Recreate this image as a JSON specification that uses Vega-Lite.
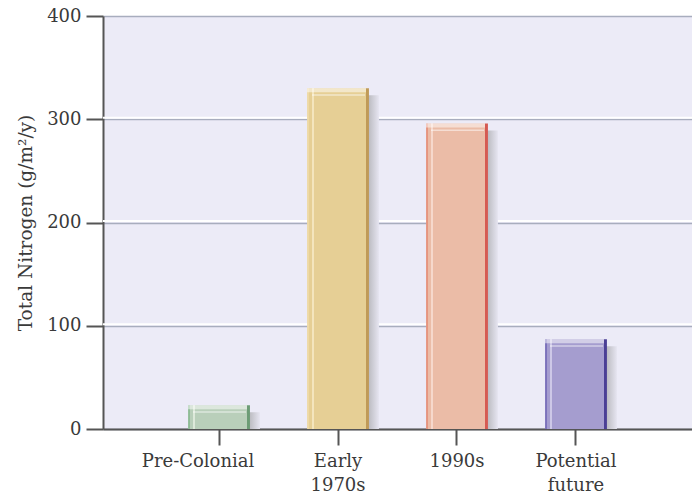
{
  "$schema": "https://vega.github.io/schema/vega-lite/v6.json",
  "width": 589,
  "height": 413,
  "autosize": "none",
  "padding": {"left": 103, "top": 16, "right": 0, "bottom": 68},
  "background": "white",
  "config": {"view": {"fill": "#ecebf7", "stroke": null}, "font": "DejaVu Serif"},
  "datasets": {
    "bars": [
      {"period": "Pre-Colonial", "nitrogen": 23},
      {"period": "Early 1970s", "nitrogen": 330},
      {"period": "1990s", "nitrogen": 296},
      {"period": "Potential future", "nitrogen": 87}
    ],
    "grid": [{"level": 100}, {"level": 200}, {"level": 300}]
  },
  "encoding": {
    "x": {"field": "period", "type": "nominal", "sort": null, "title": null,
      "scale": {"domain": ["Pre-Colonial", "Early 1970s", "1990s", "Potential future"], "paddingInner": 0.48, "paddingOuter": 0.715},
      "axis": {"labelAngle": 0, "labelFont": "DejaVu Serif", "labelFontSize": 18, "labelColor": "#3a3a3a",
        "labelExpr": "split(datum.value, ' ')", "labelLineHeight": 24, "labelPadding": 7,
        "labelOffset": {"condition": {"test": "datum.value === 'Pre-Colonial'", "value": -21}, "value": 0},
        "domainColor": "#555555", "domainWidth": 2, "tickColor": "#555555", "tickWidth": 2, "tickSize": 16, "grid": false}},
    "y": {"field": "nitrogen", "type": "quantitative", "title": "Total Nitrogen (g/m²/y)",
      "scale": {"domain": [0, 400], "nice": false},
      "axis": {"values": [0, 100, 200, 300, 400], "labelFont": "DejaVu Serif", "labelFontSize": 18, "labelColor": "#3a3a3a",
        "labelPadding": 5, "titleFont": "DejaVu Serif", "titleFontSize": 18.5, "titleFontWeight": "normal", "titleColor": "#3a3a3a", "titlePadding": 11,
        "domainColor": "#555555", "domainWidth": 2, "tickColor": "#555555", "tickWidth": 2, "tickSize": 17,
        "grid": true, "gridColor": "#a8adbe", "gridWidth": 1.5}}
  },
  "layer": [
    {
      "data": {"name": "grid"},
      "mark": {"type": "rule", "color": "#ffffff", "strokeWidth": 2, "yOffset": -1.5},
      "encoding": {
        "x": {"value": 0},
        "x2": {"value": "width"},
        "y": {"field": "level", "type": "quantitative", "title": "Total Nitrogen (g/m²/y)",
          "scale": {"domain": [0, 400], "nice": false},
          "axis": {"values": [0, 100, 200, 300, 400], "labelFont": "DejaVu Serif", "labelFontSize": 18, "labelColor": "#3a3a3a",
            "labelPadding": 5, "titleFont": "DejaVu Serif", "titleFontSize": 18.5, "titleFontWeight": "normal", "titleColor": "#3a3a3a", "titlePadding": 11,
            "domainColor": "#555555", "domainWidth": 2, "tickColor": "#555555", "tickWidth": 2, "tickSize": 17,
            "grid": true, "gridColor": "#a8adbe", "gridWidth": 1.5}}
      }
    },
    {
      "data": {"name": "bars"},
      "mark": {"type": "bar", "xOffset": 10, "yOffset": 7, "y2Offset": 0,
        "color": {"gradient": "linear", "x1": 0, "y1": 0, "x2": 1, "y2": 0,
          "stops": [{"offset": 0, "color": "#b8b8bd"}, {"offset": 0.82, "color": "#b8b8bd"}, {"offset": 1, "color": "#e6e5f1"}]}},
      "encoding": {"y2": {"datum": 0}}
    },
    {
      "data": {"name": "bars"},
      "transform": [{"filter": "datum.period === 'Pre-Colonial'"}],
      "mark": {"type": "bar", "color": {"gradient": "linear", "x1": 0, "y1": 0, "x2": 1, "y2": 0, "stops": [
        {"offset": 0, "color": "#8fbc96"}, {"offset": 0.035, "color": "#8fbc96"},
        {"offset": 0.035, "color": "#b9cfba"}, {"offset": 0.08, "color": "#b9cfba"},
        {"offset": 0.08, "color": "#dde9da"}, {"offset": 0.105, "color": "#dde9da"},
        {"offset": 0.105, "color": "#b9cfba"}, {"offset": 0.95, "color": "#b9cfba"},
        {"offset": 0.95, "color": "#6c9c75"}, {"offset": 1, "color": "#6c9c75"}]}}
    },
    {
      "data": {"name": "bars"},
      "transform": [{"filter": "datum.period === 'Early 1970s'"}],
      "mark": {"type": "bar", "color": {"gradient": "linear", "x1": 0, "y1": 0, "x2": 1, "y2": 0, "stops": [
        {"offset": 0, "color": "#eed9a4"}, {"offset": 0.035, "color": "#eed9a4"},
        {"offset": 0.035, "color": "#e6cf95"}, {"offset": 0.08, "color": "#e6cf95"},
        {"offset": 0.08, "color": "#f4e5bd"}, {"offset": 0.105, "color": "#f4e5bd"},
        {"offset": 0.105, "color": "#e6cf95"}, {"offset": 0.95, "color": "#e6cf95"},
        {"offset": 0.95, "color": "#c09a58"}, {"offset": 1, "color": "#c09a58"}]}}
    },
    {
      "data": {"name": "bars"},
      "transform": [{"filter": "datum.period === '1990s'"}],
      "mark": {"type": "bar", "color": {"gradient": "linear", "x1": 0, "y1": 0, "x2": 1, "y2": 0, "stops": [
        {"offset": 0, "color": "#e6957f"}, {"offset": 0.035, "color": "#e6957f"},
        {"offset": 0.035, "color": "#ebbca7"}, {"offset": 0.08, "color": "#ebbca7"},
        {"offset": 0.08, "color": "#f6d8cc"}, {"offset": 0.105, "color": "#f6d8cc"},
        {"offset": 0.105, "color": "#ebbca7"}, {"offset": 0.95, "color": "#ebbca7"},
        {"offset": 0.95, "color": "#d55a52"}, {"offset": 1, "color": "#d55a52"}]}}
    },
    {
      "data": {"name": "bars"},
      "transform": [{"filter": "datum.period === 'Potential future'"}],
      "mark": {"type": "bar", "color": {"gradient": "linear", "x1": 0, "y1": 0, "x2": 1, "y2": 0, "stops": [
        {"offset": 0, "color": "#7c72bb"}, {"offset": 0.035, "color": "#7c72bb"},
        {"offset": 0.035, "color": "#a59dcf"}, {"offset": 0.08, "color": "#a59dcf"},
        {"offset": 0.08, "color": "#cdc8e7"}, {"offset": 0.105, "color": "#cdc8e7"},
        {"offset": 0.105, "color": "#a59dcf"}, {"offset": 0.95, "color": "#a59dcf"},
        {"offset": 0.95, "color": "#4b3f95"}, {"offset": 1, "color": "#4b3f95"}]}}
    },
    {
      "data": {"name": "bars"},
      "mark": {"type": "bar", "y2Offset": 4, "color": {"gradient": "linear", "x1": 0, "y1": 0, "x2": 1, "y2": 0, "stops": [
        {"offset": 0, "color": "rgba(255,255,255,0.5)"}, {"offset": 0.95, "color": "rgba(255,255,255,0.5)"},
        {"offset": 0.95, "color": "rgba(255,255,255,0)"}, {"offset": 1, "color": "rgba(255,255,255,0)"}]}},
      "encoding": {"y2": {"field": "nitrogen"}}
    },
    {
      "data": {"name": "bars"},
      "mark": {"type": "bar", "yOffset": 6, "y2Offset": 7.5, "color": {"gradient": "linear", "x1": 0, "y1": 0, "x2": 1, "y2": 0, "stops": [
        {"offset": 0, "color": "rgba(255,255,255,0)"}, {"offset": 0.08, "color": "rgba(255,255,255,0)"},
        {"offset": 0.08, "color": "rgba(255,255,255,0.5)"}, {"offset": 0.93, "color": "rgba(255,255,255,0.5)"},
        {"offset": 0.93, "color": "rgba(255,255,255,0)"}, {"offset": 1, "color": "rgba(255,255,255,0)"}]}},
      "encoding": {"y2": {"field": "nitrogen"}}
    }
  ]
}
